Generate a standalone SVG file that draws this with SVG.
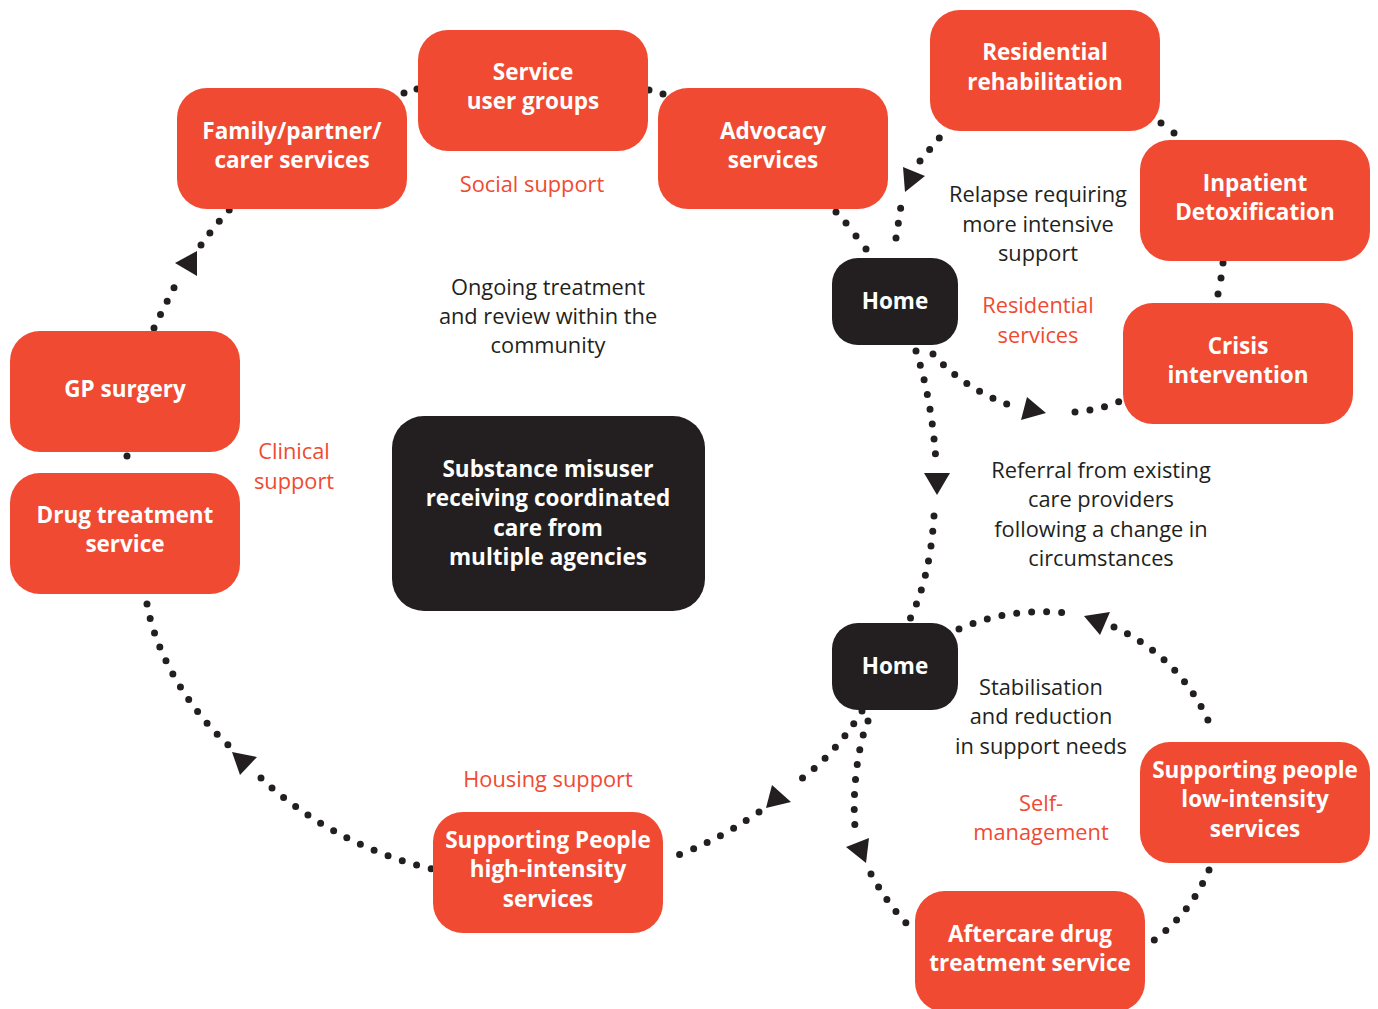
<svg xmlns="http://www.w3.org/2000/svg" width="1378" height="1009" viewBox="0 0 1378 1009">
<style>
.box{fill:#f04a33}
.dark{fill:#231f20}
.bl{font-family:"Open Sans","Noto Sans",sans-serif;font-weight:700;font-size:22.5px;fill:#fff;text-anchor:middle}
.tx{font-family:"Open Sans","Noto Sans",sans-serif;font-size:21.8px;fill:#231f20;text-anchor:middle}
.rt{font-family:"Open Sans","Noto Sans",sans-serif;font-size:21.8px;fill:#f04a33;text-anchor:middle}
.dot{fill:none;stroke:#231f20;stroke-width:7;stroke-linecap:round;stroke-dasharray:0 15}
.ah{fill:#231f20}
</style>
<rect width="1378" height="1009" fill="#fff"/>
<g id="connectors">
<circle class="ah" cx="404" cy="93" r="3.5"/><circle class="ah" cx="417" cy="89" r="3.5"/>
<circle class="ah" cx="649" cy="90" r="3.5"/><circle class="ah" cx="663" cy="94" r="3.5"/>
<path class="dot" d="M154,328 Q165,305 177,282"/>
<path class="dot" d="M201,245 Q215,225 232,207"/>
<polygon class="ah" points="175,263 197,251 197,276"/>
<circle class="ah" cx="127" cy="456" r="3.5"/>
<path class="dot" d="M147,604 C155,650 185,705 228,745"/>
<path class="dot" d="M261,778 C300,815 360,852 432,869"/>
<polygon class="ah" points="232,752 257,757 240,775"/>
<path class="dot" d="M862,711 Q835,755 797,782"/>
<path class="dot" d="M759,812 Q710,845 672,857"/>
<polygon class="ah" points="772,785 791,802 766,808"/>
<path class="dot" d="M868,721 C858,745 852,790 855,827"/>
<path class="dot" d="M871,874 Q888,905 910,927"/>
<polygon class="ah" points="846,847 869,838 866,863"/>
<path class="dot" d="M959,629 Q1010,607 1066,613"/>
<path class="dot" d="M1114,627 Q1185,660 1213,732"/>
<polygon class="ah" points="1084,616 1110,612 1100,635"/>
<path class="dot" d="M1209,870 Q1190,915 1149,944"/>
<circle class="ah" cx="836" cy="212" r="3.5"/><circle class="ah" cx="846" cy="223" r="3.5"/><circle class="ah" cx="856" cy="236" r="3.5"/><circle class="ah" cx="866" cy="249" r="3.5"/>
<path class="dot" d="M896,238 L901,206"/>
<path class="dot" d="M920,161 L941,136"/>
<polygon class="ah" points="903,167 925,176 905,192"/>
<circle class="ah" cx="1161" cy="123" r="3.5"/><circle class="ah" cx="1174" cy="133" r="3.5"/>
<circle class="ah" cx="1223" cy="263" r="3.5"/><circle class="ah" cx="1221" cy="278" r="3.5"/><circle class="ah" cx="1218" cy="294" r="3.5"/>
<path class="dot" d="M933,354 Q965,390 1015,407"/>
<path class="dot" d="M1075,412 Q1100,410 1123,400"/>
<polygon class="ah" points="1021,420 1027,397 1046,413"/>
<path class="dot" d="M916,351 Q932,400 936,462"/>
<path class="dot" d="M934,516 Q930,580 908,623"/>
<polygon class="ah" points="924,473 950,473 937,495"/>
</g>
<g id="family"><rect class="box" x="177" y="88" width="230" height="121" rx="30"/><text class="bl" x="292" y="139">Family/partner/</text><text class="bl" x="292" y="168">carer services</text></g>
<g id="service-user-groups"><rect class="box" x="418" y="30" width="230" height="121" rx="30"/><text class="bl" x="533" y="80">Service</text><text class="bl" x="533" y="109">user groups</text></g>
<g id="advocacy"><rect class="box" x="658" y="88" width="230" height="121" rx="30"/><text class="bl" x="773" y="139">Advocacy</text><text class="bl" x="773" y="168">services</text></g>
<g id="residential-rehab"><rect class="box" x="930" y="10" width="230" height="121" rx="30"/><text class="bl" x="1045" y="60">Residential</text><text class="bl" x="1045" y="90">rehabilitation</text></g>
<g id="inpatient"><rect class="box" x="1140" y="140" width="230" height="121" rx="30"/><text class="bl" x="1255" y="191">Inpatient</text><text class="bl" x="1255" y="220">Detoxification</text></g>
<g id="crisis"><rect class="box" x="1123" y="303" width="230" height="121" rx="30"/><text class="bl" x="1238" y="354">Crisis</text><text class="bl" x="1238" y="383">intervention</text></g>
<g id="home1"><rect class="dark" x="832" y="258" width="126" height="87" rx="26"/><text class="bl" x="895" y="309">Home</text></g>
<g id="gp"><rect class="box" x="10" y="331" width="230" height="121" rx="30"/><text class="bl" x="125" y="397">GP surgery</text></g>
<g id="drug-treatment"><rect class="box" x="10" y="473" width="230" height="121" rx="30"/><text class="bl" x="125" y="523">Drug treatment</text><text class="bl" x="125" y="552">service</text></g>
<g id="central"><rect class="dark" x="392" y="416" width="313" height="195" rx="32"/><text class="bl" x="548" y="477">Substance misuser</text><text class="bl" x="548" y="506">receiving coordinated</text><text class="bl" x="548" y="536">care from</text><text class="bl" x="548" y="565">multiple agencies</text></g>
<g id="home2"><rect class="dark" x="832" y="623" width="126" height="87" rx="26"/><text class="bl" x="895" y="674">Home</text></g>
<g id="sp-low"><rect class="box" x="1140" y="742" width="230" height="121" rx="30"/><text class="bl" x="1255" y="778">Supporting people</text><text class="bl" x="1255" y="807">low-intensity</text><text class="bl" x="1255" y="837">services</text></g>
<g id="aftercare"><rect class="box" x="915" y="891" width="230" height="121" rx="30"/><text class="bl" x="1030" y="942">Aftercare drug</text><text class="bl" x="1030" y="971">treatment service</text></g>
<g id="sp-high"><rect class="box" x="433" y="812" width="230" height="121" rx="30"/><text class="bl" x="548" y="848">Supporting People</text><text class="bl" x="548" y="877">high-intensity</text><text class="bl" x="548" y="907">services</text></g>
<g id="labels">
<text class="rt" x="532" y="192">Social support</text>
<text class="tx" x="548" y="295">Ongoing treatment</text><text class="tx" x="548" y="324">and review within the</text><text class="tx" x="548" y="353">community</text>
<text class="tx" x="1038" y="202">Relapse requiring</text><text class="tx" x="1038" y="232">more intensive</text><text class="tx" x="1038" y="261">support</text>
<text class="rt" x="1038" y="313">Residential</text><text class="rt" x="1038" y="343">services</text>
<text class="rt" x="294" y="459">Clinical</text><text class="rt" x="294" y="489">support</text>
<text class="tx" x="1101" y="478">Referral from existing</text><text class="tx" x="1101" y="507">care providers</text><text class="tx" x="1101" y="537">following a change in</text><text class="tx" x="1101" y="566">circumstances</text>
<text class="tx" x="1041" y="695">Stabilisation</text><text class="tx" x="1041" y="724">and reduction</text><text class="tx" x="1041" y="754">in support needs</text>
<text class="rt" x="1041" y="811">Self-</text><text class="rt" x="1041" y="840">management</text>
<text class="rt" x="548" y="787">Housing support</text>
</g>
</svg>
